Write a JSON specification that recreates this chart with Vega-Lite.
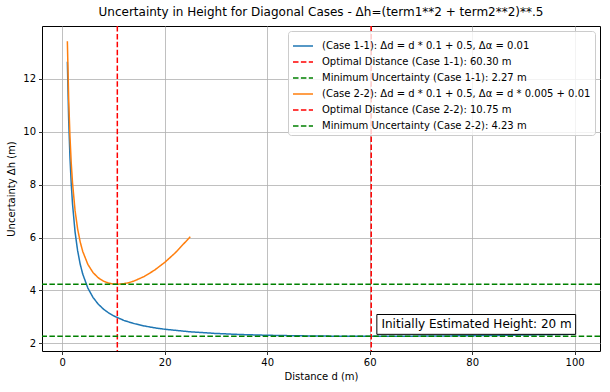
{
  "$schema": "https://vega.github.io/schema/vega-lite/v6.json",
  "width": 558,
  "height": 325,
  "autosize": "none",
  "padding": {"left": 42, "top": 26, "right": 10, "bottom": 41},
  "background": "white",
  "config": {
    "font": "DejaVu Sans",
    "view": {"stroke": "black", "strokeWidth": 1},
    "axis": {
      "domain": false,
      "grid": true,
      "gridColor": "#b0b0b0",
      "gridWidth": 0.8,
      "tickColor": "black",
      "tickSize": 3.5,
      "tickWidth": 0.8,
      "labelColor": "black",
      "labelFontSize": 10,
      "labelFont": "DejaVu Sans",
      "titleFont": "DejaVu Sans",
      "titleFontSize": 10,
      "titleFontWeight": "normal",
      "titleColor": "black",
      "labelPadding": 3
    },
    "legend": {
      "labelFont": "DejaVu Sans",
      "labelFontSize": 10,
      "labelColor": "black",
      "labelLimit": 400
    }
  },
  "title": {
    "text": "Uncertainty in Height for Diagonal Cases - Δh=(term1**2 + term2**2)**.5",
    "fontSize": 12,
    "fontWeight": "normal",
    "font": "DejaVu Sans",
    "color": "black",
    "offset": 6
  },
  "datasets": {
    "curves": [
      {"series": "(Case 1-1): Δd = d * 0.1 + 0.5, Δα = 0.01", "d": 1, "dh": 12.652},
      {"series": "(Case 1-1): Δd = d * 0.1 + 0.5, Δα = 0.01", "d": 1.25, "dh": 10.503},
      {"series": "(Case 1-1): Δd = d * 0.1 + 0.5, Δα = 0.01", "d": 1.5, "dh": 9.072},
      {"series": "(Case 1-1): Δd = d * 0.1 + 0.5, Δα = 0.01", "d": 1.75, "dh": 8.051},
      {"series": "(Case 1-1): Δd = d * 0.1 + 0.5, Δα = 0.01", "d": 2, "dh": 7.286},
      {"series": "(Case 1-1): Δd = d * 0.1 + 0.5, Δα = 0.01", "d": 2.5, "dh": 6.216},
      {"series": "(Case 1-1): Δd = d * 0.1 + 0.5, Δα = 0.01", "d": 3, "dh": 5.505},
      {"series": "(Case 1-1): Δd = d * 0.1 + 0.5, Δα = 0.01", "d": 3.5, "dh": 4.998},
      {"series": "(Case 1-1): Δd = d * 0.1 + 0.5, Δα = 0.01", "d": 4, "dh": 4.619},
      {"series": "(Case 1-1): Δd = d * 0.1 + 0.5, Δα = 0.01", "d": 5, "dh": 4.089},
      {"series": "(Case 1-1): Δd = d * 0.1 + 0.5, Δα = 0.01", "d": 6, "dh": 3.738},
      {"series": "(Case 1-1): Δd = d * 0.1 + 0.5, Δα = 0.01", "d": 7, "dh": 3.488},
      {"series": "(Case 1-1): Δd = d * 0.1 + 0.5, Δα = 0.01", "d": 8, "dh": 3.301},
      {"series": "(Case 1-1): Δd = d * 0.1 + 0.5, Δα = 0.01", "d": 9, "dh": 3.157},
      {"series": "(Case 1-1): Δd = d * 0.1 + 0.5, Δα = 0.01", "d": 10, "dh": 3.041},
      {"series": "(Case 1-1): Δd = d * 0.1 + 0.5, Δα = 0.01", "d": 12, "dh": 2.869},
      {"series": "(Case 1-1): Δd = d * 0.1 + 0.5, Δα = 0.01", "d": 14, "dh": 2.747},
      {"series": "(Case 1-1): Δd = d * 0.1 + 0.5, Δα = 0.01", "d": 16, "dh": 2.657},
      {"series": "(Case 1-1): Δd = d * 0.1 + 0.5, Δα = 0.01", "d": 18, "dh": 2.587},
      {"series": "(Case 1-1): Δd = d * 0.1 + 0.5, Δα = 0.01", "d": 20, "dh": 2.532},
      {"series": "(Case 1-1): Δd = d * 0.1 + 0.5, Δα = 0.01", "d": 25, "dh": 2.435},
      {"series": "(Case 1-1): Δd = d * 0.1 + 0.5, Δα = 0.01", "d": 30, "dh": 2.373},
      {"series": "(Case 1-1): Δd = d * 0.1 + 0.5, Δα = 0.01", "d": 35, "dh": 2.332},
      {"series": "(Case 1-1): Δd = d * 0.1 + 0.5, Δα = 0.01", "d": 40, "dh": 2.305},
      {"series": "(Case 1-1): Δd = d * 0.1 + 0.5, Δα = 0.01", "d": 45, "dh": 2.287},
      {"series": "(Case 1-1): Δd = d * 0.1 + 0.5, Δα = 0.01", "d": 50, "dh": 2.275},
      {"series": "(Case 1-1): Δd = d * 0.1 + 0.5, Δα = 0.01", "d": 55, "dh": 2.269},
      {"series": "(Case 1-1): Δd = d * 0.1 + 0.5, Δα = 0.01", "d": 60, "dh": 2.267},
      {"series": "(Case 1-1): Δd = d * 0.1 + 0.5, Δα = 0.01", "d": 65, "dh": 2.268},
      {"series": "(Case 1-1): Δd = d * 0.1 + 0.5, Δα = 0.01", "d": 70, "dh": 2.273},
      {"series": "(Case 1-1): Δd = d * 0.1 + 0.5, Δα = 0.01", "d": 75, "dh": 2.28},
      {"series": "(Case 1-1): Δd = d * 0.1 + 0.5, Δα = 0.01", "d": 80, "dh": 2.289},
      {"series": "(Case 1-1): Δd = d * 0.1 + 0.5, Δα = 0.01", "d": 85, "dh": 2.3},
      {"series": "(Case 1-1): Δd = d * 0.1 + 0.5, Δα = 0.01", "d": 90, "dh": 2.313},
      {"series": "(Case 1-1): Δd = d * 0.1 + 0.5, Δα = 0.01", "d": 95, "dh": 2.327},
      {"series": "(Case 1-1): Δd = d * 0.1 + 0.5, Δα = 0.01", "d": 100, "dh": 2.343},
      {"series": "(Case 2-2): Δd = d * 0.1 + 0.5, Δα = d * 0.005 + 0.01", "d": 1, "dh": 13.423},
      {"series": "(Case 2-2): Δd = d * 0.1 + 0.5, Δα = d * 0.005 + 0.01", "d": 1.25, "dh": 11.281},
      {"series": "(Case 2-2): Δd = d * 0.1 + 0.5, Δα = d * 0.005 + 0.01", "d": 1.5, "dh": 9.856},
      {"series": "(Case 2-2): Δd = d * 0.1 + 0.5, Δα = d * 0.005 + 0.01", "d": 1.75, "dh": 8.841},
      {"series": "(Case 2-2): Δd = d * 0.1 + 0.5, Δα = d * 0.005 + 0.01", "d": 2, "dh": 8.082},
      {"series": "(Case 2-2): Δd = d * 0.1 + 0.5, Δα = d * 0.005 + 0.01", "d": 2.5, "dh": 7.026},
      {"series": "(Case 2-2): Δd = d * 0.1 + 0.5, Δα = d * 0.005 + 0.01", "d": 3, "dh": 6.329},
      {"series": "(Case 2-2): Δd = d * 0.1 + 0.5, Δα = d * 0.005 + 0.01", "d": 3.5, "dh": 5.838},
      {"series": "(Case 2-2): Δd = d * 0.1 + 0.5, Δα = d * 0.005 + 0.01", "d": 4, "dh": 5.476},
      {"series": "(Case 2-2): Δd = d * 0.1 + 0.5, Δα = d * 0.005 + 0.01", "d": 5, "dh": 4.985},
      {"series": "(Case 2-2): Δd = d * 0.1 + 0.5, Δα = d * 0.005 + 0.01", "d": 6, "dh": 4.679},
      {"series": "(Case 2-2): Δd = d * 0.1 + 0.5, Δα = d * 0.005 + 0.01", "d": 7, "dh": 4.482},
      {"series": "(Case 2-2): Δd = d * 0.1 + 0.5, Δα = d * 0.005 + 0.01", "d": 8, "dh": 4.356},
      {"series": "(Case 2-2): Δd = d * 0.1 + 0.5, Δα = d * 0.005 + 0.01", "d": 9, "dh": 4.28},
      {"series": "(Case 2-2): Δd = d * 0.1 + 0.5, Δα = d * 0.005 + 0.01", "d": 10, "dh": 4.243},
      {"series": "(Case 2-2): Δd = d * 0.1 + 0.5, Δα = d * 0.005 + 0.01", "d": 11, "dh": 4.236},
      {"series": "(Case 2-2): Δd = d * 0.1 + 0.5, Δα = d * 0.005 + 0.01", "d": 12, "dh": 4.254},
      {"series": "(Case 2-2): Δd = d * 0.1 + 0.5, Δα = d * 0.005 + 0.01", "d": 13, "dh": 4.295},
      {"series": "(Case 2-2): Δd = d * 0.1 + 0.5, Δα = d * 0.005 + 0.01", "d": 14, "dh": 4.355},
      {"series": "(Case 2-2): Δd = d * 0.1 + 0.5, Δα = d * 0.005 + 0.01", "d": 16, "dh": 4.528},
      {"series": "(Case 2-2): Δd = d * 0.1 + 0.5, Δα = d * 0.005 + 0.01", "d": 18, "dh": 4.765},
      {"series": "(Case 2-2): Δd = d * 0.1 + 0.5, Δα = d * 0.005 + 0.01", "d": 20, "dh": 5.061},
      {"series": "(Case 2-2): Δd = d * 0.1 + 0.5, Δα = d * 0.005 + 0.01", "d": 22, "dh": 5.411},
      {"series": "(Case 2-2): Δd = d * 0.1 + 0.5, Δα = d * 0.005 + 0.01", "d": 25, "dh": 6.033}
    ],
    "refs": [
      {"series": "Optimal Distance (Case 1-1): 60.30 m", "kind": "v", "value": 60.3},
      {"series": "Minimum Uncertainty (Case 1-1): 2.27 m", "kind": "h", "value": 2.27},
      {"series": "Optimal Distance (Case 2-2): 10.75 m", "kind": "v", "value": 10.75},
      {"series": "Minimum Uncertainty (Case 2-2): 4.23 m", "kind": "h", "value": 4.23}
    ]
  },
  "layer": [
    {
      "data": {"name": "curves"},
      "mark": {"type": "line", "strokeWidth": 1.5, "clip": true},
      "encoding": {
        "x": {
          "field": "d", "type": "quantitative",
          "scale": {"domain": [-3.95, 104.95], "nice": false, "zero": false},
          "axis": {"title": "Distance d (m)", "values": [0, 20, 40, 60, 80, 100], "titlePadding": 4}
        },
        "y": {
          "field": "dh", "type": "quantitative",
          "scale": {"domain": [1.71, 14.0], "nice": false, "zero": false},
          "axis": {"title": "Uncertainty Δh (m)", "values": [2, 4, 6, 8, 10, 12], "titlePadding": 6}
        },
        "color": {
          "field": "series", "type": "nominal",
          "scale": {
            "domain": [
              "(Case 1-1): Δd = d * 0.1 + 0.5, Δα = 0.01",
              "Optimal Distance (Case 1-1): 60.30 m",
              "Minimum Uncertainty (Case 1-1): 2.27 m",
              "(Case 2-2): Δd = d * 0.1 + 0.5, Δα = d * 0.005 + 0.01",
              "Optimal Distance (Case 2-2): 10.75 m",
              "Minimum Uncertainty (Case 2-2): 4.23 m"
            ],
            "range": ["#1f77b4", "#ff0000", "#008000", "#ff7f0e", "#ff0000", "#008000"]
          },
          "legend": {
            "title": null,
            "orient": "top-right",
            "offset": 5,
            "symbolType": "stroke",
            "symbolSize": 400,
            "symbolStrokeWidth": 1.5,
            "fillColor": "rgba(255,255,255,0.8)",
            "strokeColor": "#cccccc",
            "cornerRadius": 3,
            "padding": 4,
            "rowPadding": 0,
            "symbolOffset": 0,
            "labelOffset": 8
          }
        },
        "strokeDash": {
          "field": "series", "type": "nominal",
          "scale": {
            "domain": [
              "(Case 1-1): Δd = d * 0.1 + 0.5, Δα = 0.01",
              "Optimal Distance (Case 1-1): 60.30 m",
              "Minimum Uncertainty (Case 1-1): 2.27 m",
              "(Case 2-2): Δd = d * 0.1 + 0.5, Δα = d * 0.005 + 0.01",
              "Optimal Distance (Case 2-2): 10.75 m",
              "Minimum Uncertainty (Case 2-2): 4.23 m"
            ],
            "range": [[1, 0], [5.5, 2.4], [5.5, 2.4], [1, 0], [5.5, 2.4], [5.5, 2.4]]
          },
          "legend": null
        }
      }
    },
    {
      "data": {"name": "refs"},
      "transform": [{"filter": "datum.kind === 'v'"}],
      "mark": {"type": "rule", "strokeWidth": 1.5},
      "encoding": {
        "x": {"field": "value", "type": "quantitative"},
        "color": {"field": "series", "type": "nominal"},
        "strokeDash": {"field": "series", "type": "nominal"}
      }
    },
    {
      "data": {"name": "refs"},
      "transform": [{"filter": "datum.kind === 'h'"}],
      "mark": {"type": "rule", "strokeWidth": 1.5},
      "encoding": {
        "y": {"field": "value", "type": "quantitative"},
        "color": {"field": "series", "type": "nominal"},
        "strokeDash": {"field": "series", "type": "nominal"}
      }
    },
    {
      "data": {"values": [{}]},
      "mark": {"type": "rect", "fill": "white", "stroke": "black", "strokeWidth": 1},
      "encoding": {
        "x": {"datum": 61.4, "type": "quantitative"},
        "x2": {"datum": 100.2},
        "y": {"datum": 3.09, "type": "quantitative"},
        "y2": {"datum": 2.34}
      }
    },
    {
      "data": {"values": [{}]},
      "mark": {"type": "text", "align": "left", "baseline": "middle", "fontSize": 12, "font": "DejaVu Sans", "color": "black"},
      "encoding": {
        "x": {"datum": 62.3, "type": "quantitative"},
        "y": {"datum": 2.72, "type": "quantitative"},
        "text": {"value": "Initially Estimated Height: 20 m"}
      }
    }
  ]
}
